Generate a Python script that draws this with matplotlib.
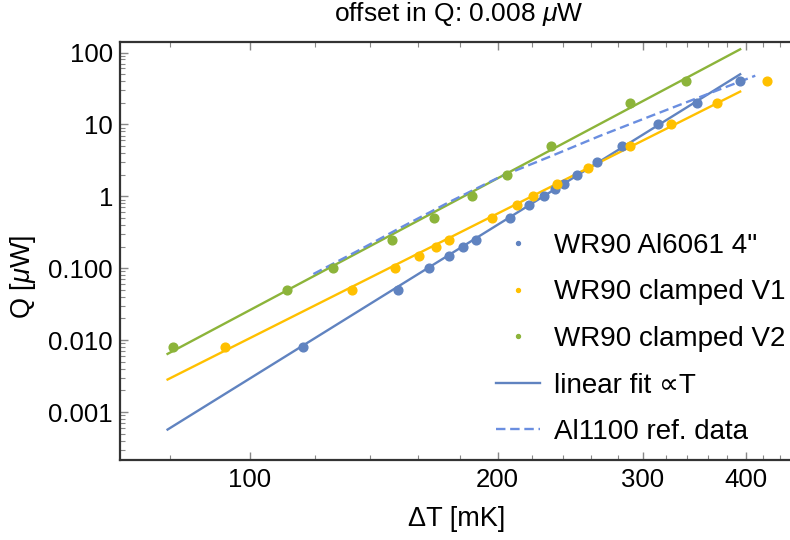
import numpy as np
import matplotlib
matplotlib.use('Agg')
import matplotlib.pyplot as plt
from matplotlib.ticker import FixedLocator, FixedFormatter, LogLocator, NullFormatter

plt.rcParams['font.family'] = ['Liberation Sans', 'DejaVu Sans']
plt.rcParams['mathtext.fontset'] = 'custom'
plt.rcParams['mathtext.rm'] = 'Liberation Sans'
plt.rcParams['mathtext.it'] = 'Liberation Sans:italic'

# WR90 Al6061 4"
T_al = [116.2, 151.5, 165.3, 174.6, 181.4, 188.3, 207.1, 218.6, 228, 234.9, 240.8, 249.9, 263.8, 282.9, 313.5, 348.9, 393.8]
Q_al = [0.008, 0.05, 0.1, 0.15, 0.2, 0.25, 0.5, 0.75, 1, 1.25, 1.5, 2, 3, 5, 10, 20, 40]
# WR90 clamped V1
T_v1 = [93.4, 133.3, 150.2, 160.6, 168.3, 174.8, 197.0, 211.0, 221.0, 236.3, 257.5, 289.6, 324.8, 369, 424.4]
Q_v1 = [0.008, 0.05, 0.1, 0.15, 0.2, 0.25, 0.5, 0.75, 1, 1.5, 2.5, 5, 10, 20, 40]
# WR90 clamped V2
T_v2 = [80.8, 110.9, 126.2, 148.8, 167.5, 186.1, 205.1, 232.1, 289.6, 338.4]
Q_v2 = [0.008, 0.05, 0.1, 0.25, 0.5, 1, 2, 5, 20, 40]

# fit lines (end points)
fit_T = [79.5, 394]
fit_Q_al = [0.00057, 49.8]
fit_Q_v1 = [0.00283, 28.6]
fit_Q_v2 = [0.00643, 110.8]

# Al1100 reference
ref_T = [119.5, 136, 152, 175, 201, 232, 266, 306, 352, 411]
ref_Q = [0.083, 0.18, 0.36, 0.84, 1.85, 3.6, 6.9, 12.9, 24, 47.6]

c_al = '#6083C0'
c_v1 = '#FFC000'
c_v2 = '#8CB43A'
c_ref = '#6A8EE0'

fig = plt.figure(figsize=(7.9, 5.4), dpi=100)
ax = fig.add_axes([120/790, 80/540, 670/790, 418/540])

ax.plot(T_al, Q_al, 'o', color=c_al, ms=6.3, label='WR90 Al6061 4"', zorder=3)
ax.plot(T_v1, Q_v1, 'o', color=c_v1, ms=6.3, label='WR90 clamped V1', zorder=3)
ax.plot(T_v2, Q_v2, 'o', color=c_v2, ms=6.3, label='WR90 clamped V2', zorder=3)
ax.plot(fit_T, fit_Q_al, '-', color=c_al, lw=1.7, label='linear fit ∝T')
ax.plot(fit_T, fit_Q_v1, '-', color=c_v1, lw=1.7)
ax.plot(fit_T, fit_Q_v2, '-', color=c_v2, lw=1.7)
ax.plot(ref_T, ref_Q, '--', color=c_ref, lw=1.7, dashes=(4, 2), label='Al1100 ref. data')

ax.set_xscale('log')
ax.set_yscale('log')
ax.set_xlim(69.6, 452.9)
ax.set_ylim(0.000215, 140)

ax.xaxis.set_major_locator(FixedLocator([100, 200, 300, 400]))
ax.xaxis.set_major_formatter(FixedFormatter(['100', '200', '300', '400']))
ax.xaxis.set_minor_locator(FixedLocator([80, 120, 140, 160, 180, 220, 240, 260, 280, 320, 340, 360, 380, 420, 440]))
ax.xaxis.set_minor_formatter(NullFormatter())

ax.yaxis.set_major_locator(FixedLocator([0.001, 0.01, 0.1, 1, 10, 100]))
ax.yaxis.set_major_formatter(FixedFormatter(['0.001', '0.010', '0.100', '1', '10', '100']))
ax.yaxis.set_minor_locator(LogLocator(base=10, subs=np.arange(2, 10), numticks=20))
ax.yaxis.set_minor_formatter(NullFormatter())

ax.tick_params(which='both', direction='in', top=True, right=False, color='#888888', labelsize=18.5)
ax.tick_params(which='major', length=6, width=1)
ax.tick_params(which='minor', length=3.5, width=0.8)
ax.tick_params(axis='x', pad=6)
ax.tick_params(axis='y', pad=5)
for s in ['left', 'bottom', 'top']:
    ax.spines[s].set_linewidth(1.6)
    ax.spines[s].set_color('#333333')
ax.spines['right'].set_visible(False)

fig.text(23/790, 1 - 277/540, r'Q [$\mu$W]', rotation=90, ha='center', va='center', fontsize=19.5)
fig.text(457/790, 1 - 519/540, 'ΔT [mK]', ha='center', va='center', fontsize=19.5)
fig.text(459/790, 1 - 14/540, r'offset in Q: 0.008 $\mu$W', ha='center', va='center', fontsize=19)

ax.legend(loc='upper left', bbox_to_anchor=(482/790, 1 - 219/540), bbox_transform=fig.transFigure,
          frameon=False, fontsize=20, markerscale=0.45, handlelength=1.6, handletextpad=0.5,
          labelspacing=0.74, borderpad=0)

fig.savefig('out.png', dpi=100)
